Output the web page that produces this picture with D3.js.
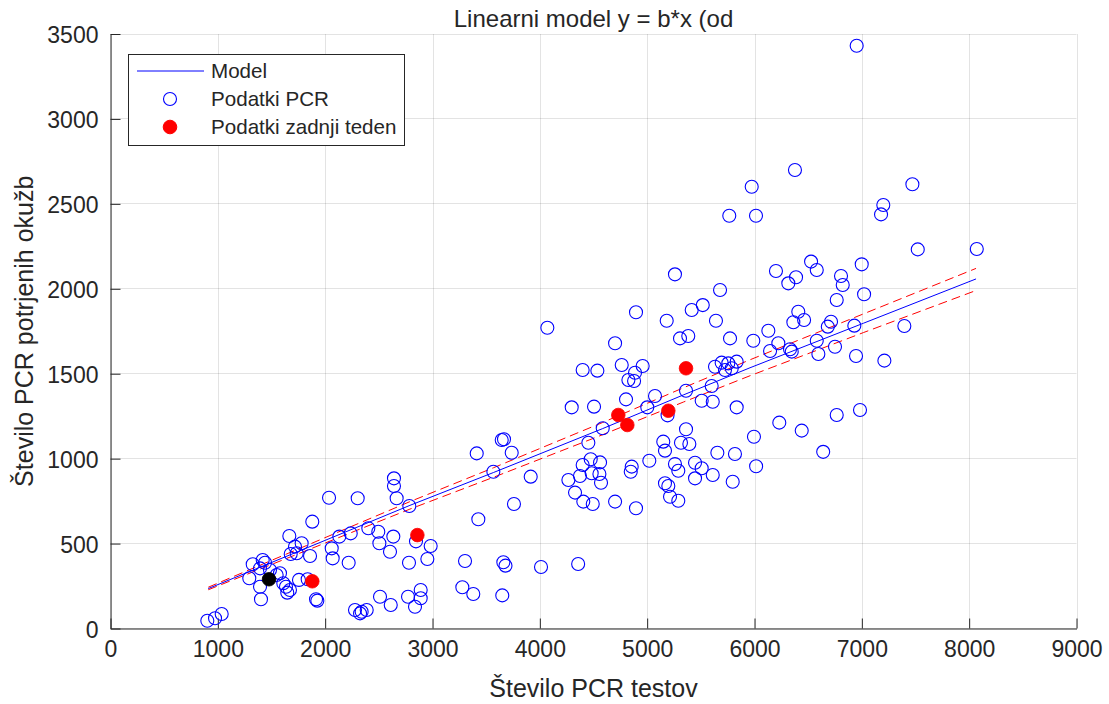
<!DOCTYPE html>
<html>
<head>
<meta charset="utf-8">
<script src="https://cdn.jsdelivr.net/npm/d3@7"></script>
<style>
  html, body { margin: 0; padding: 0; background: #ffffff; }
  svg { display: block; }
  text { font-family: "Liberation Sans", Arial, Helvetica, sans-serif; fill: #262626; }
</style>
</head>
<body>
<svg id="chart" width="1109" height="704"></svg>
<script>
// Axis ticks
const xTicks = [0, 1000, 2000, 3000, 4000, 5000, 6000, 7000, 8000, 9000];
const yTicks = [0, 500, 1000, 1500, 2000, 2500, 3000, 3500];

// Daily PCR data: number of tests vs. confirmed infections
const pcrTests = [
  902, 974, 1036, 1402, 1325, 1418, 1440, 1393, 1486, 1548, 1293, 1393, 1579, 1635, 1672, 1647, 1610,
  1666, 1719, 1781, 1679, 1735, 1859, 1880, 1756, 1837, 1915, 1927, 2036, 2303, 2061, 2070, 2132, 2238,
  2402, 2495, 2505, 2604, 2635, 2641, 2641, 2666, 2784, 2846, 2983, 2952, 2781, 2219, 2511, 2611, 2772,
  2837, 2890, 2890, 2278, 2340, 2387, 2325, 3303, 3278, 3380, 3412, 3427,
  4070, 4896, 4701, 4399, 4536, 4763, 4958, 4887, 4825, 4878, 4803, 4297, 4505, 5001, 5073, 4586, 4452,
  3666, 3645, 3738, 3567, 3915, 3759,
  4266, 4399, 4474, 4561, 4483, 4555, 4374, 4570, 4328, 4405, 4493, 4701, 4896, 4856, 4847, 5020, 5150,
  5166, 5362, 5315, 5393, 5259, 5290, 5446, 5508, 5446, 5166, 5197, 5213, 5290, 5611, 5654, 5818, 5797,
  5362, 5601, 5508, 5611, 5834, 5190,
  5182, 5415, 5518, 5641, 5772, 5306, 5383,
  5632, 5694, 5756, 5788, 5725, 5834,
  3660, 3680, 3650, 4011, 4357,
  6377, 5974, 5765, 6014, 5259, 5679, 5989, 6129, 6200, 6315, 6387, 6527, 6580, 6806, 6822, 6766, 6408,
  6362, 6462, 6713, 6683, 6222, 6331, 6347, 6145, 6580, 6595, 6750,
  6952, 7471, 7200, 7179, 7521, 8071, 6999, 7021,
  6930, 7396, 6946, 7210, 6766, 6983, 6231, 6440, 5995,
  6015, 6640
];
const pcrCases = [
  46, 60, 85, 172, 378, 403, 387, 354, 344, 315, 296, 246, 325, 246, 227, 211, 266,
  545, 482, 502, 439, 443, 427, 629, 286, 290, 172, 164, 770, 767, 472, 413, 541, 560,
  590, 570, 502, 452, 541, 884, 839, 767, 721, 513, 486, 409, 387, 387, 187, 138, 187,
  128, 227, 178, 109, 99, 109, 89, 397, 243, 203, 1031, 643,
  1771, 1862, 1679, 1522, 1518, 1551, 1545, 1506, 1463, 1457, 1349, 1302, 1306, 1302, 1369, 1179, 1094,
  1114, 1110, 1035, 923, 894, 733,
  874, 963, 996, 978, 914, 910, 898, 858, 800, 747, 733, 747, 708, 953, 923, 988, 1100,
  1047, 1173, 1094, 1086, 968, 929, 976, 943, 884, 855, 839, 776, 752, 904, 1035, 1027, 864,
  1400, 1428, 1341, 1335, 1302, 1255,
  1812, 1875, 1904, 1812, 1708, 1708, 1722,
  1541, 1565, 1561, 1532, 1522, 1571,
  390, 370, 195, 362, 380,
  2699, 2601, 2430, 2430, 2085, 1993, 1694, 1753, 2105, 2032, 2068, 2160, 2111, 2075, 2022, 1934, 1865,
  1803, 1816, 1806, 1777, 1679, 1644, 1630, 1634, 1694, 1616, 1659,
  3431, 2615, 2493, 2438, 2232, 2234, 2144, 1968,
  1783, 1781, 1604, 1577, 1257, 1286, 1212, 1165, 1129,
  955, 1040
];

// Last week's data
const weekTests = [1880, 2859, 4731, 4815, 5197, 5362];
const weekCases = [278, 550, 1257, 1198, 1282, 1532];

// Latest day
const todayTests = [1477];
const todayCases = [290];

// Fitted model and its confidence band
const modelX = [911, 2790, 3567, 4586, 5337, 5958, 7014, 8064];
const modelY = [235, 725, 918, 1177, 1375, 1535, 1797, 2058];
const bandUpper = [243, 747, 946, 1213, 1417, 1582, 1852, 2120];
const bandLower = [228, 703, 890, 1141, 1333, 1488, 1742, 1990];

const titleText = "Linearni model y = b*x (od";
const xLabel = "Število PCR testov";
const yLabel = "Število PCR potrjenih okužb";
const legendLabels = ["Model", "Podatki PCR", "Podatki zadnji teden"];

const svg = d3.select("#chart");
const plotLeft = 110.5, plotRight = 1076.5, plotTop = 34, plotBottom = 628.5;
const ink = "#262626";

const x = d3.scaleLinear().domain([0, 9000]).range([plotLeft, plotRight]);
const y = d3.scaleLinear().domain([0, 3500]).range([plotBottom, plotTop]);

// Grid
const grid = svg.append("g").attr("stroke", "rgba(38,38,38,0.13)").attr("stroke-width", 1);
grid.selectAll("line.gx").data(xTicks).join("line")
  .attr("x1", d => Math.round(x(d)) + 0.5).attr("x2", d => Math.round(x(d)) + 0.5)
  .attr("y1", plotTop).attr("y2", plotBottom);
grid.selectAll("line.gy").data(yTicks).join("line")
  .attr("x1", plotLeft).attr("x2", plotRight)
  .attr("y1", d => Math.round(y(d) - 0.5) + 0.5).attr("y2", d => Math.round(y(d) - 0.5) + 0.5);

// Axes with inward ticks
const xAxis = d3.axisBottom(x).tickValues(xTicks).tickFormat(d3.format("d"))
  .tickSizeInner(-10).tickSizeOuter(0).tickPadding(12);
const yAxis = d3.axisLeft(y).tickValues(yTicks).tickFormat(d3.format("d"))
  .tickSizeInner(-10).tickSizeOuter(0).tickPadding(12);

const gx = svg.append("g").attr("transform", `translate(0,${plotBottom})`).call(xAxis);
const gy = svg.append("g").attr("transform", `translate(${plotLeft},0)`).call(yAxis);
[gx, gy].forEach(g => {
  g.select(".domain").attr("stroke", ink).attr("stroke-width", 1);
  g.selectAll(".tick line").attr("stroke", ink).attr("stroke-width", 1);
  g.selectAll(".tick text").attr("fill", ink).style("font-size", "23px")
    .style("font-family", '"Liberation Sans", Arial, sans-serif');
});
gx.selectAll(".tick text").attr("dy", "0.71em");
gy.selectAll(".tick text").attr("dy", "0.38em");

// Model and confidence band
const line = d3.line().x(d => x(d[0])).y(d => y(d[1]));
const plot = svg.append("g");
plot.append("path").datum(modelX.map((v, i) => [v, bandUpper[i]]))
  .attr("d", line).attr("fill", "none").attr("stroke", "#ff0000")
  .attr("stroke-width", 1).attr("stroke-dasharray", "9,5");
plot.append("path").datum(modelX.map((v, i) => [v, bandLower[i]]))
  .attr("d", line).attr("fill", "none").attr("stroke", "#ff0000")
  .attr("stroke-width", 1).attr("stroke-dasharray", "9,5");
plot.append("path").datum(modelX.map((v, i) => [v, modelY[i]]))
  .attr("d", line).attr("fill", "none").attr("stroke", "#0000ff").attr("stroke-width", 1);

// PCR data points
plot.append("g").selectAll("circle").data(pcrTests.map((v, i) => [v, pcrCases[i]])).join("circle")
  .attr("cx", d => x(d[0])).attr("cy", d => y(d[1])).attr("r", 6.5)
  .attr("fill", "none").attr("stroke", "#0000ff").attr("stroke-width", 1.1);

// Last week
plot.append("g").selectAll("circle").data(weekTests.map((v, i) => [v, weekCases[i]])).join("circle")
  .attr("cx", d => x(d[0])).attr("cy", d => y(d[1])).attr("r", 6.8)
  .attr("fill", "#ff0000").attr("stroke", "#ff0000").attr("stroke-width", 0.8);

// Latest day
plot.append("g").selectAll("circle").data(todayTests.map((v, i) => [v, todayCases[i]])).join("circle")
  .attr("cx", d => x(d[0])).attr("cy", d => y(d[1])).attr("r", 6.8)
  .attr("fill", "#000000").attr("stroke", "#000000").attr("stroke-width", 0.8);

// Title and axis labels
svg.append("text").attr("x", (plotLeft + plotRight) / 2).attr("y", 27)
  .attr("text-anchor", "middle").style("font-size", "24px").text(titleText);
svg.append("text").attr("x", (plotLeft + plotRight) / 2).attr("y", 697)
  .attr("text-anchor", "middle").style("font-size", "25px").text(xLabel);
svg.append("text").attr("transform", `translate(33,${(plotTop + plotBottom) / 2}) rotate(-90)`)
  .attr("text-anchor", "middle").style("font-size", "25px").text(yLabel);

// Legend
const lg = svg.append("g");
lg.append("rect").attr("x", 128.5).attr("y", 54.5).attr("width", 276).attr("height", 91)
  .attr("fill", "#ffffff").attr("stroke", ink).attr("stroke-width", 1);
const rowY = [71, 99, 127];
lg.append("line").attr("x1", 137).attr("x2", 204).attr("y1", rowY[0]).attr("y2", rowY[0])
  .attr("stroke", "#0000ff").attr("stroke-width", 1);
lg.append("circle").attr("cx", 170).attr("cy", rowY[1]).attr("r", 6.5)
  .attr("fill", "none").attr("stroke", "#0000ff").attr("stroke-width", 1.1);
lg.append("circle").attr("cx", 170).attr("cy", rowY[2]).attr("r", 6.8)
  .attr("fill", "#ff0000").attr("stroke", "#ff0000");
lg.selectAll("text").data(legendLabels).join("text")
  .attr("x", 211).attr("y", (d, i) => rowY[i]).attr("dy", "0.35em")
  .style("font-size", "20.6px").text(d => d);
</script>
</body>
</html>
